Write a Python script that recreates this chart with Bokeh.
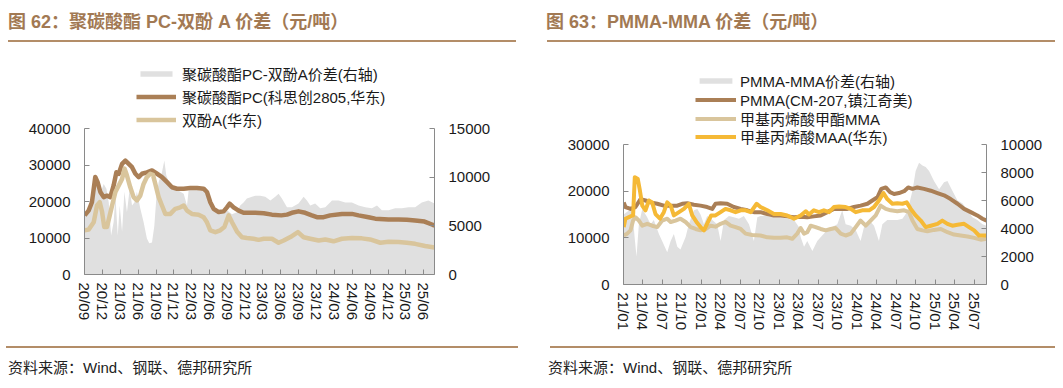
import pandas as pd
from bokeh.plotting import figure
from bokeh.models import (Range1d, LinearAxis, FixedTicker, MonthsTicker,
                          DatetimeTickFormatter, Legend, LegendItem, Div,
                          NumeralTickFormatter)
from bokeh.layouts import row, column
from bokeh.embed import file_html
from bokeh.resources import INLINE

# ---------------- data: chart 62 (PC vs BPA) ----------------
pc_dates = ["2020-09-01", "2020-09-21", "2020-10-08", "2020-10-25", "2020-11-06", "2020-11-20", "2020-12-07", "2020-12-24", "2021-01-10", "2021-01-27",
            "2021-02-10", "2021-02-22", "2021-03-11", "2021-03-28", "2021-04-14", "2021-05-01", "2021-05-18", "2021-06-04", "2021-06-21", "2021-07-16",
            "2021-08-11", "2021-09-06", "2021-10-01", "2021-10-27", "2021-11-21", "2021-12-17", "2022-01-20", "2022-02-23", "2022-03-29", "2022-05-02",
            "2022-05-19", "2022-06-05", "2022-06-22", "2022-07-18", "2022-08-12", "2022-08-29", "2022-09-12", "2022-10-02", "2022-10-28", "2022-11-22",
            "2022-12-26", "2023-01-21", "2023-03-05", "2023-04-16", "2023-06-03", "2023-07-02", "2023-07-27", "2023-08-30", "2023-10-03", "2023-11-06",
            "2023-12-02", "2024-01-05", "2024-02-08", "2024-04-08", "2024-05-29", "2024-07-02", "2024-08-22", "2024-09-25", "2024-12-02", "2025-01-22",
            "2025-03-06", "2025-04-17", "2025-06-04", "2025-07-12", "2025-07-25"]
pc_values = [16200, 17500, 19800, 26700, 25300, 22600, 21200, 21600, 21200, 24400,
             28000, 27600, 30300, 31200, 30300, 29400, 27600, 26700, 27600, 28000,
             28500, 27600, 26700, 25300, 23900, 23500, 23500, 23700, 23700, 23500,
             22600, 19800, 18000, 17100, 17300, 18400, 19400, 18400, 17500, 16900,
             16900, 16900, 16800, 16400, 16200, 16400, 16900, 17300, 16900, 16200,
             15700, 15700, 16200, 16600, 16600, 16200, 15700, 15300, 15100, 15100,
             15000, 14800, 14500, 13700, 13400]

bpa_dates = ["2020-09-01", "2020-09-21", "2020-10-17", "2020-11-03", "2020-11-17", "2020-11-29", "2020-12-10", "2020-12-24", "2021-01-07", "2021-01-19",
             "2021-02-05", "2021-02-22", "2021-03-11", "2021-03-24", "2021-04-05", "2021-04-22", "2021-05-09", "2021-05-26", "2021-06-12", "2021-06-29",
             "2021-07-16", "2021-08-02", "2021-08-16", "2021-08-28", "2021-09-14", "2021-10-01", "2021-10-18", "2021-11-13", "2021-12-08", "2022-01-03",
             "2022-01-20", "2022-02-06", "2022-03-03", "2022-04-06", "2022-05-02", "2022-05-19", "2022-06-05", "2022-07-01", "2022-07-26", "2022-08-16",
             "2022-09-07", "2022-09-24", "2022-10-19", "2022-11-14", "2022-12-09", "2023-01-12", "2023-02-07", "2023-03-05", "2023-04-16", "2023-05-20",
             "2023-06-15", "2023-07-27", "2023-08-27", "2023-09-25", "2023-10-29", "2023-12-11", "2024-01-14", "2024-02-25", "2024-04-08", "2024-05-29",
             "2024-07-19", "2024-08-30", "2024-10-21", "2024-12-02", "2025-01-22", "2025-03-06", "2025-04-17", "2025-06-07", "2025-07-25"]
bpa_values = [12100, 12300, 14300, 18900, 19800, 17100, 13000, 13000, 16200, 18900,
              22600, 24400, 26200, 29000, 27100, 23900, 21200, 20300, 21600, 24800,
              26700, 27600, 27300, 24800, 21200, 18900, 16600, 16600, 18000, 18400,
              18900, 17500, 16600, 16400, 15700, 14300, 12100, 11600, 12100, 13000,
              16200, 14300, 11800, 10200, 10000, 9800, 9500, 9800, 9800, 8700,
              9300, 10500, 11600, 10200, 9800, 9300, 9600, 9100, 9800, 10000,
              9900, 9600, 8700, 9000, 8900, 8700, 8400, 7800, 7400]

pcs_dates = ["2020-09-01", "2020-09-21", "2020-10-08", "2020-10-25", "2020-11-12", "2020-11-23", "2020-12-07", "2020-12-21", "2021-01-02", "2021-01-14",
             "2021-01-27", "2021-02-05", "2021-02-17", "2021-02-27", "2021-03-11", "2021-03-23", "2021-04-05", "2021-04-19", "2021-05-01", "2021-05-13",
             "2021-05-26", "2021-06-12", "2021-06-29", "2021-07-16", "2021-07-28", "2021-08-11", "2021-08-23", "2021-09-02", "2021-09-14", "2021-10-01",
             "2021-10-13", "2021-10-23", "2021-11-09", "2021-11-30", "2021-12-25", "2022-01-20", "2022-02-06", "2022-02-14", "2022-03-12", "2022-04-15",
             "2022-05-11", "2022-05-28", "2022-06-14", "2022-07-09", "2022-08-04", "2022-08-29", "2022-09-24", "2022-10-19", "2022-11-05", "2022-11-22",
             "2022-12-09", "2023-01-04", "2023-01-21", "2023-02-15", "2023-03-13", "2023-04-08", "2023-05-03", "2023-05-20", "2023-06-06", "2023-07-02",
             "2023-07-27", "2023-08-30", "2023-09-25", "2023-10-12", "2023-10-29", "2023-11-23", "2023-12-19", "2024-01-14", "2024-02-17", "2024-03-22",
             "2024-04-25", "2024-05-29", "2024-07-02", "2024-08-05", "2024-09-08", "2024-10-04", "2024-10-29", "2024-12-02", "2025-01-05", "2025-02-08",
             "2025-03-14", "2025-04-17", "2025-05-21", "2025-06-24", "2025-07-25"]
pcs_values = [5900, 6800, 8500, 9000, 9200, 8500, 9300, 8800, 7400, 4000,
              5400, 8100, 4000, 7100, 4400, 8500, 6400, 8800, 7100, 7400,
              8500, 6800, 5400, 3700, 3200, 3300, 5000, 7800, 9500, 10500,
              11700, 10200, 9300, 9000, 8600, 8300, 7100, 8600, 8800, 8600,
              8800, 8000, 7300, 6600, 6400, 6600, 6200, 6400, 7100, 7400,
              7800, 8000, 8100, 8100, 8000, 7600, 8000, 8300, 7800, 6900,
              6900, 7300, 8000, 7600, 7100, 7300, 6800, 6900, 7600, 7600,
              7400, 7400, 7100, 6900, 6800, 7100, 6600, 6600, 6800, 6800,
              6900, 6900, 7400, 7600, 7300]

# ---------------- data: chart 63 (PMMA vs MMA) ----------------
pmma_dates = ["2021-01-01", "2021-01-09", "2021-02-02", "2021-02-25", "2021-03-21", "2021-04-13", "2021-05-07", "2021-06-07", "2021-07-08", "2021-08-09",
              "2021-09-09", "2021-10-02", "2021-10-26", "2021-11-26", "2021-12-27", "2022-01-27", "2022-02-20", "2022-03-07", "2022-03-31", "2022-05-01",
              "2022-06-01", "2022-07-03", "2022-08-03", "2022-09-03", "2022-10-04", "2022-11-05", "2022-12-06", "2023-01-06", "2023-02-06", "2023-03-10",
              "2023-04-10", "2023-05-11", "2023-06-11", "2023-07-13", "2023-08-13", "2023-09-13", "2023-10-15", "2023-11-15", "2023-12-16", "2024-01-16",
              "2024-02-17", "2024-03-11", "2024-04-04", "2024-04-22", "2024-05-13", "2024-06-02", "2024-06-21", "2024-07-14", "2024-08-07", "2024-08-26",
              "2024-09-15", "2024-10-08", "2024-11-08", "2024-12-10", "2025-01-10", "2025-02-10", "2025-03-13", "2025-04-14", "2025-05-15", "2025-06-15",
              "2025-07-16", "2025-08-09", "2025-08-28"]
pmma_values = [17600, 16600, 16200, 16600, 18300, 18000, 17600, 17300, 16900, 16900,
               16900, 17300, 17400, 17100, 16900, 16600, 16200, 17300, 17400, 17300,
               16600, 16200, 15900, 15500, 15500, 15100, 14800, 14800, 14600, 14400,
               14500, 14400, 14600, 14800, 15500, 16200, 16200, 16200, 16600, 16900,
               17300, 18000, 18700, 20500, 20800, 19800, 19400, 19600, 20000, 20800,
               20500, 20800, 20500, 20100, 19600, 19100, 18300, 17300, 16200, 15500,
               14800, 14100, 13700]

mma_dates = ["2021-01-01", "2021-01-17", "2021-02-02", "2021-02-14", "2021-02-25", "2021-03-13", "2021-03-29", "2021-04-21", "2021-05-14", "2021-06-07",
             "2021-06-30", "2021-07-24", "2021-08-09", "2021-09-01", "2021-09-24", "2021-10-18", "2021-11-11", "2021-12-04", "2021-12-27", "2022-01-20",
             "2022-02-12", "2022-03-07", "2022-03-31", "2022-04-23", "2022-05-17", "2022-06-09", "2022-07-03", "2022-07-26", "2022-08-26", "2022-10-04",
             "2022-11-05", "2022-12-06", "2023-01-06", "2023-02-06", "2023-03-02", "2023-03-25", "2023-04-10", "2023-04-26", "2023-05-11", "2023-05-27",
             "2023-06-19", "2023-07-13", "2023-08-05", "2023-08-29", "2023-09-21", "2023-10-15", "2023-11-07", "2023-12-01", "2023-12-24", "2024-01-16",
             "2024-02-09", "2024-03-03", "2024-03-27", "2024-04-19", "2024-05-13", "2024-06-05", "2024-07-06", "2024-08-07", "2024-08-30", "2024-09-15",
             "2024-10-08", "2024-11-01", "2024-11-24", "2024-12-25", "2025-01-26", "2025-02-26", "2025-03-29", "2025-04-29", "2025-05-31", "2025-07-01",
             "2025-08-01", "2025-08-28"]
mma_values = [10500, 10900, 11600, 13700, 14400, 13700, 12600, 13000, 12600, 12300,
              13700, 14100, 13400, 13700, 14100, 13400, 12300, 11900, 11600, 11900,
              12600, 12400, 13000, 13400, 12600, 12300, 11900, 10900, 10600, 10500,
              10100, 10000, 10000, 10100, 9800, 10900, 12100, 10900, 11200, 12600,
              12300, 11900, 11600, 11900, 12100, 10900, 10500, 10900, 12300, 13700,
              12600, 13700, 14800, 16900, 16200, 15900, 15700, 15900, 15500, 13700,
              11900, 11600, 11400, 11700, 11900, 11200, 10700, 10500, 10300, 10000,
              9600, 9800]

maa_dates = ["2021-01-01", "2021-01-09", "2021-02-02", "2021-02-14", "2021-02-22", "2021-03-08", "2021-03-18", "2021-03-29", "2021-04-13", "2021-04-29",
             "2021-05-14", "2021-05-30", "2021-06-20", "2021-07-08", "2021-07-24", "2021-08-09", "2021-08-24", "2021-09-17", "2021-10-10", "2021-11-02",
             "2021-11-18", "2021-12-08", "2021-12-27", "2022-01-12", "2022-01-31", "2022-02-15", "2022-03-07", "2022-03-31", "2022-04-23", "2022-05-17",
             "2022-06-09", "2022-07-03", "2022-07-26", "2022-08-19", "2022-09-16", "2022-10-04", "2022-11-05", "2022-12-06", "2023-01-06", "2023-02-06",
             "2023-03-10", "2023-04-10", "2023-05-04", "2023-05-19", "2023-06-11", "2023-07-05", "2023-07-28", "2023-08-21", "2023-09-13", "2023-10-07",
             "2023-11-07", "2023-12-01", "2023-12-24", "2024-01-24", "2024-02-25", "2024-03-19", "2024-04-11", "2024-05-02", "2024-05-20", "2024-06-13",
             "2024-07-06", "2024-07-30", "2024-08-19", "2024-09-07", "2024-09-30", "2024-10-24", "2024-11-16", "2024-12-10", "2025-01-10", "2025-02-02",
             "2025-02-26", "2025-03-21", "2025-04-14", "2025-05-15", "2025-06-07", "2025-07-01", "2025-07-24", "2025-08-28"]
maa_values = [12300, 14100, 14600, 14800, 23000, 22600, 20100, 16900, 15900, 18000,
              17600, 15100, 14100, 15500, 17600, 16900, 14800, 15500, 16200, 17300,
              14800, 13400, 12300, 11600, 13400, 14800, 14800, 15500, 16200, 15900,
              15500, 15900, 15900, 15500, 17300, 16600, 15900, 15100, 15100, 14800,
              14100, 14800, 15700, 15000, 15900, 15500, 15900, 15500, 16600, 16700,
              16600, 16200, 15500, 15900, 15900, 16600, 18000, 19600, 18300, 17300,
              17400, 17300, 17600, 16200, 14800, 13700, 12300, 12600, 13000, 13700,
              13000, 12600, 12800, 13000, 12300, 11600, 10500, 10500]

pms_dates = ["2021-01-01", "2021-01-17", "2021-02-10", "2021-02-21", "2021-03-02", "2021-03-13", "2021-03-29", "2021-04-21", "2021-05-07", "2021-05-22",
             "2021-06-15", "2021-06-30", "2021-07-24", "2021-08-09", "2021-08-24", "2021-09-09", "2021-09-24", "2021-10-18", "2021-11-02", "2021-11-26",
             "2021-12-12", "2021-12-27", "2022-01-12", "2022-01-27", "2022-02-20", "2022-03-15", "2022-03-31", "2022-04-16", "2022-05-09", "2022-06-01",
             "2022-06-25", "2022-07-18", "2022-08-11", "2022-09-03", "2022-09-19", "2022-10-04", "2022-11-05", "2022-12-06", "2023-01-06", "2023-02-06",
             "2023-03-10", "2023-04-02", "2023-04-10", "2023-04-26", "2023-05-11", "2023-06-04", "2023-06-27", "2023-07-20", "2023-08-13", "2023-09-05",
             "2023-09-29", "2023-10-22", "2023-11-07", "2023-12-01", "2023-12-24", "2024-01-16", "2024-02-01", "2024-02-25", "2024-03-19", "2024-04-11",
             "2024-04-27", "2024-05-20", "2024-06-13", "2024-07-06", "2024-07-30", "2024-08-22", "2024-09-15", "2024-09-30", "2024-10-16", "2024-11-01",
             "2024-11-16", "2024-12-02", "2024-12-25", "2025-01-18", "2025-02-10", "2025-02-26", "2025-03-21", "2025-04-14", "2025-05-07", "2025-05-31",
             "2025-06-23", "2025-07-16", "2025-08-09", "2025-08-28"]
pms_values = [5000, 5200, 5400, 3400, 2000, 4300, 5400, 4800, 4300, 4600,
              3600, 3100, 2300, 3100, 3600, 2700, 2500, 3400, 4300, 5300,
              5400, 5000, 4300, 4900, 4600, 4300, 3100, 4600, 4900, 4800,
              4700, 4900, 4300, 3100, 4800, 4900, 4900, 4800, 4800, 4700,
              4600, 4100, 3400, 2700, 3100, 2400, 3100, 3500, 3900, 4100,
              4300, 5300, 4300, 4200, 3900, 3100, 4100, 4600, 4200, 3100,
              4300, 4600, 4600, 4600, 4700, 5200, 6700, 8100, 8700, 8500,
              8400, 8100, 7400, 6800, 7300, 7400, 6700, 6000, 5800, 5300,
              4800, 4600, 4300, 4200]

# ---------------- texts / ticks ----------------
title1 = "图 62：聚碳酸酯 PC-双酚 A 价差（元/吨）"
title2 = "图 63：PMMA-MMA 价差（元/吨）"
source = "资料来源：Wind、钢联、德邦研究所"
labels1 = ["聚碳酸酯PC-双酚A价差(右轴)", "聚碳酸酯PC(科思创2805,华东)", "双酚A(华东)"]
labels2 = ["PMMA-MMA价差(右轴)", "PMMA(CM-207,镇江奇美)", "甲基丙烯酸甲酯MMA", "甲基丙烯酸MAA(华东)"]
left_ticks1 = [0, 10000, 20000, 30000, 40000]
right_ticks1 = [0, 5000, 10000, 15000]
left_ticks2 = [0, 10000, 20000, 30000]
right_ticks2 = [0, 2000, 4000, 6000, 8000, 10000]
# BokehJS months are 0-based: 2 = March, 0 = January
quarter_months1 = [2, 5, 8, 11]
quarter_months2 = [0, 3, 6, 9]

FONT = "'Liberation Sans', 'Noto Sans CJK SC', sans-serif"
TITLE_C = "#a27953"
RULE_C = "#b38d68"
C_DARK = "#aa7f56"
C_TAN = "#d9c59c"
C_YEL = "#f5b936"
C_GRAY = "#e0e0e0"
AX_C = "#8a8a8a"
TXT_C = "#1a1a1a"


def style_axis(ax):
    ax.axis_line_color = AX_C
    ax.major_tick_line_color = AX_C
    ax.major_tick_in = 5
    ax.major_tick_out = 0
    ax.minor_tick_line_color = None
    ax.major_label_text_font = FONT
    ax.major_label_text_font_size = "15px"
    ax.major_label_text_color = TXT_C


def make_fig(width, height, mb, x0, x1, ymax, ymax_r, head, lt, rt, months):
    # the frame is extended upward by factor `head` to leave room for the
    # legend inside it; the axes themselves stop at ymax / ymax_r
    p = figure(width=width, height=height, x_axis_type="datetime", title=None,
               x_range=Range1d(pd.Timestamp(x0), pd.Timestamp(x1)),
               y_range=Range1d(0, ymax * head), output_backend="svg",
               toolbar_location=None, min_border_left=mb[0],
               min_border_right=mb[1], min_border_top=mb[2],
               min_border_bottom=mb[3])
    p.extra_y_ranges = {"right": Range1d(0, ymax_r * head)}
    p.outline_line_color = None
    p.xgrid.visible = False
    p.ygrid.visible = False
    p.background_fill_color = "white"
    p.border_fill_color = "white"
    ra = LinearAxis(y_range_name="right")
    p.add_layout(ra, "right")
    for ax in (p.yaxis[0], ra):
        style_axis(ax)
        ax.major_label_standoff = 14
        ax.formatter = NumeralTickFormatter(format="0")
    p.yaxis[0].ticker = FixedTicker(ticks=lt)
    p.yaxis[0].bounds = (0, ymax)
    ra.ticker = FixedTicker(ticks=rt)
    ra.bounds = (0, ymax_r)
    xa = p.xaxis[0]
    style_axis(xa)
    xa.ticker = MonthsTicker(months=months)
    fmt = "%y/%m"
    xa.formatter = DatetimeTickFormatter(days=fmt, months=fmt, years=fmt)
    xa.major_label_orientation = "vertical"
    xa.major_label_standoff = 8
    return p


def make_legend(items, loc, label_h, spacing, gw, standoff):
    return Legend(items=items, location=loc, orientation="vertical",
                  padding=0, margin=0, spacing=spacing, label_height=label_h,
                  glyph_height=7, glyph_width=gw, label_standoff=standoff,
                  label_text_font=FONT, label_text_font_size="15px",
                  label_text_color=TXT_C, background_fill_alpha=0,
                  border_line_alpha=0)


# ---------------- chart 62 ----------------
p1 = make_fig(532, 302, (76, 106, 13, 70), "2020-08-31", "2025-07-25",
              40000, 15000, 1.5, left_ticks1, right_ticks1, quarter_months1)
r1 = p1.varea(x=pd.to_datetime(pcs_dates), y1=0, y2=pcs_values,
              y_range_name="right", fill_color=C_GRAY)
r2 = p1.line(pd.to_datetime(pc_dates), pc_values, line_color=C_DARK,
             line_width=4.5, line_join="round")
r3 = p1.line(pd.to_datetime(bpa_dates), bpa_values, line_color=C_TAN,
             line_width=4.5, line_join="round")
leg1 = make_legend([LegendItem(label=labels1[0], renderers=[r1]),
                    LegendItem(label=labels1[1], renderers=[r2]),
                    LegendItem(label=labels1[2], renderers=[r3])],
                   (52, 144), 20, 2, 40, 6)
p1.add_layout(leg1)

# ---------------- chart 63 ----------------
p2 = make_fig(515, 302, (83, 69, 18, 60), "2020-12-31", "2025-08-28",
              30000, 10000, 1.6, left_ticks2, right_ticks2, quarter_months2)
s1 = p2.varea(x=pd.to_datetime(pms_dates), y1=0, y2=pms_values,
              y_range_name="right", fill_color=C_GRAY)
s2 = p2.line(pd.to_datetime(pmma_dates), pmma_values, line_color=C_DARK,
             line_width=4, line_join="round")
s3 = p2.line(pd.to_datetime(mma_dates), mma_values, line_color=C_TAN,
             line_width=4, line_join="round")
s4 = p2.line(pd.to_datetime(maa_dates), maa_values, line_color=C_YEL,
             line_width=4, line_join="round")
# one single-item legend per row so the rows sit at the reference spacing
legend_offsets2 = [193, 174, 155, 137]
for lab, rend, off in zip(labels2, [s1, s2, s3, s4], legend_offsets2):
    p2.add_layout(make_legend([LegendItem(label=lab, renderers=[rend])],
                              (72, off), 16, 0, 41, 4))


# ---------------- titles / footers as Divs ----------------
def title_div(text, width, tx, rx, rw):
    html = (f'<div style="position:relative;width:{width}px;height:34px;">'
            f'<div style="position:absolute;left:{tx}px;top:2px;white-space:nowrap;'
            f'font-family:{FONT};font-size:18px;font-weight:bold;color:{TITLE_C};">{text}</div>'
            f'<div style="position:absolute;left:{rx}px;top:32px;width:{rw}px;height:2px;'
            f'background:{RULE_C};"></div></div>')
    return Div(text=html, width=width, height=34, margin=(0, 0, 0, 0))


def foot_div(text, width, tx, rx, rw):
    html = (f'<div style="position:relative;width:{width}px;height:36px;">'
            f'<div style="position:absolute;left:{rx}px;top:2px;width:{rw}px;height:2px;'
            f'background:{RULE_C};"></div>'
            f'<div style="position:absolute;left:{tx}px;top:13px;white-space:nowrap;'
            f'font-family:{FONT};font-size:15px;color:#222222;">{text}</div></div>')
    return Div(text=html, width=width, height=36, margin=(0, 0, 0, 0))


left = column(title_div(title1, 532, 0, 0, 508), p1,
              foot_div(source, 532, 0, -2, 512), spacing=0)
right = column(title_div(title2, 515, 6, 7, 508), p2,
               foot_div(source, 515, 8, 10, 505), spacing=0)
page = row(left, right, spacing=0, margin=(8, 0, 0, 8))

open("out.html", "w").write(file_html(page, INLINE))
